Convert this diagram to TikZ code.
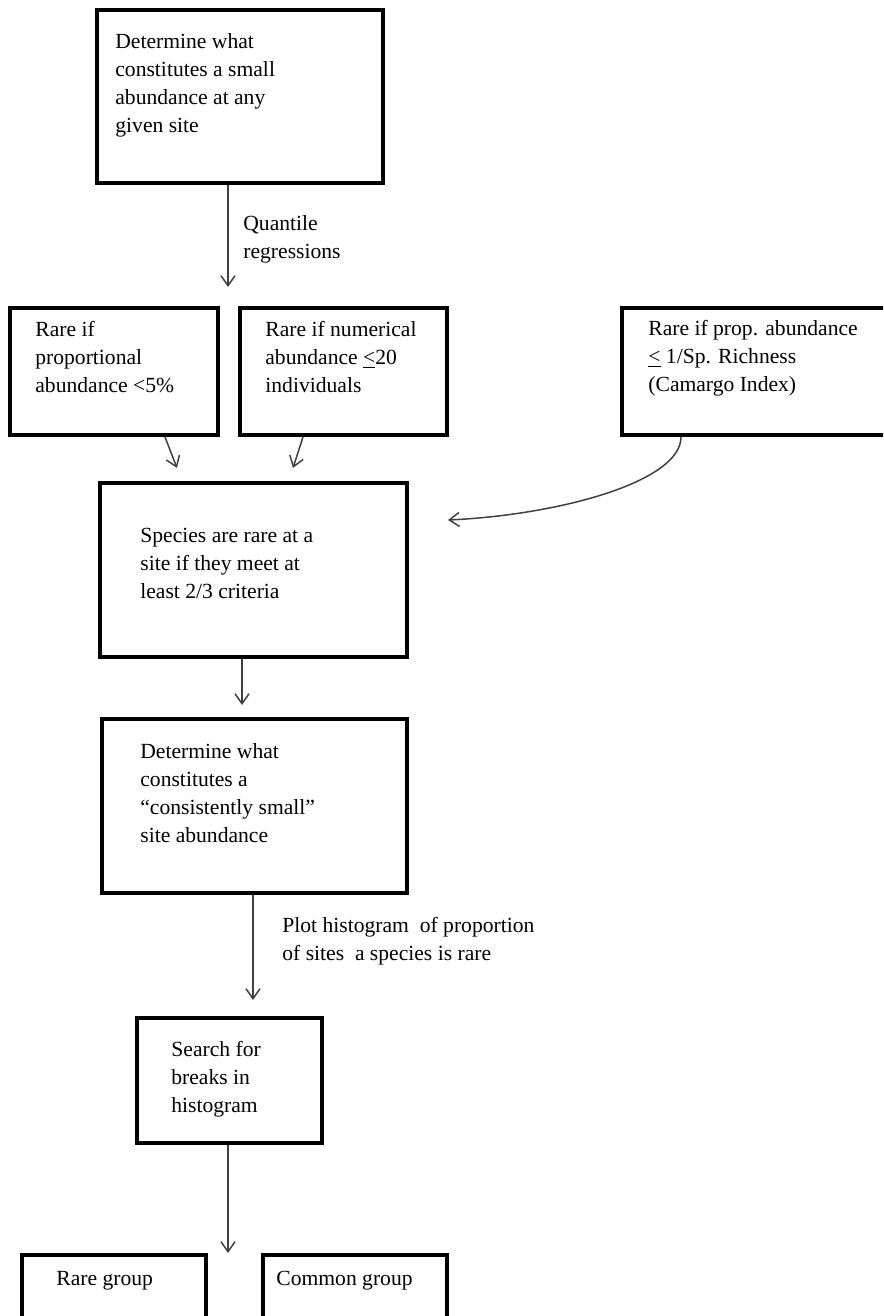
\documentclass[tikz,border=0pt]{standalone}
\usepackage{fontspec}
\setmainfont{Liberation Serif}
\usepackage{tikz}
\usetikzlibrary{positioning, calc, arrows.meta}

\begin{document}
\begin{tikzpicture}[x=0.5pt, y=-0.5pt,
	box/.style 2 args={draw, rectangle, line width=2pt, minimum width=#1*0.5pt, minimum height=#2*0.5pt, inner sep=0pt},
	txt/.style={anchor=north west, align=left, inner sep=0pt, font=\fontsize{10.8}{14}\selectfont},
	arr/.style={draw=black!75, line width=0.75pt, -{Straight Barb[length=5pt, width=7pt]}}]
	\useasboundingbox (0,0) rectangle (883,1316);
	\clip (0,0) rectangle (883,1316);
	% boxes
	\node[box={286}{173}] (det) at (240,96.5) {};
	\node[box={208}{127}] (prop) at (114,371.5) {};
	\node[box={207}{127}] (num) at (343.5,371.5) {};
	\node[box={283}{127}] (cam) at (763.5,371.5) {};
	\node[box={307}{174}] (spec) at (253.5,570) {};
	\node[box={305}{174}] (cons) at (254.5,806) {};
	\node[box={185}{125}] (srch) at (229.5,1080.5) {};
	\node[box={184}{120}] (rare) at (114,1315) {};
	\node[box={184}{120}] (comm) at (355,1315) {};
	% texts
	\node[txt] (det-t) at ($(det.north west)+(20,25)$) {Determine what\\constitutes a small\\abundance at any\\given site};
	\node[txt] (prop-t) at ($(prop.north west)+(27,15)$) {Rare if\\proportional\\abundance <5\%};
	\node[txt] (num-t) at ($(num.north west)+(27,15)$) {Rare if numerical\\abundance \underline{<}20\\individuals};
	\node[txt] (cam-t) at ($(cam.north west)+(28,14)$) {Rare if prop. abundance\\\underline{<} 1/Sp. Richness\\(Camargo Index)};
	\node[txt] (spec-t) at ($(spec.north west)+(42,47)$) {Species are rare at a\\site if they meet at\\least 2/3 criteria};
	\node[txt] (cons-t) at ($(cons.north west)+(40,26)$) {Determine what\\constitutes a\\“consistently small”\\site abundance};
	\node[txt] (srch-t) at ($(srch.north west)+(36,25)$) {Search for\\breaks in\\histogram};
	\node[txt] (rare-t) at ($(rare.north west)+(36,18)$) {Rare group};
	\node[txt] (comm-t) at ($(comm.north west)+(15,18)$) {Common group};
	% connectors
	\coordinate (q) at (228,287);
	\draw[arr] (det.south -| q) -- (q);
	\node[txt] (q-t) at (243,215) {Quantile\\regressions};
	\coordinate (p1) at (177,468);
	\draw[arr] ($(prop.south)+(51,0)$) -- (p1);
	\coordinate (n1) at (293,468);
	\draw[arr] ($(num.south)+(-40.5,0)$) -- (n1);
	\coordinate (c1) at (448,520);
	\draw[arr] ($(cam.south)+(-82.5,0)$) .. controls +(0,45) and +(110,-5) .. (c1);
	\coordinate (s1) at (242,705);
	\draw[arr] ($(spec.south)+(-11.5,0)$) -- (s1);
	\coordinate (h1) at (253,1000);
	\draw[arr] ($(cons.south)+(-1.5,0)$) -- (h1);
	\node[txt] (h-t) at (282,917) {Plot histogram\ \ of proportion\\of sites\ \ a species is rare};
	\coordinate (g1) at (228,1253);
	\draw[arr] ($(srch.south)+(-1.5,0)$) -- (g1);
\end{tikzpicture}
\end{document}
